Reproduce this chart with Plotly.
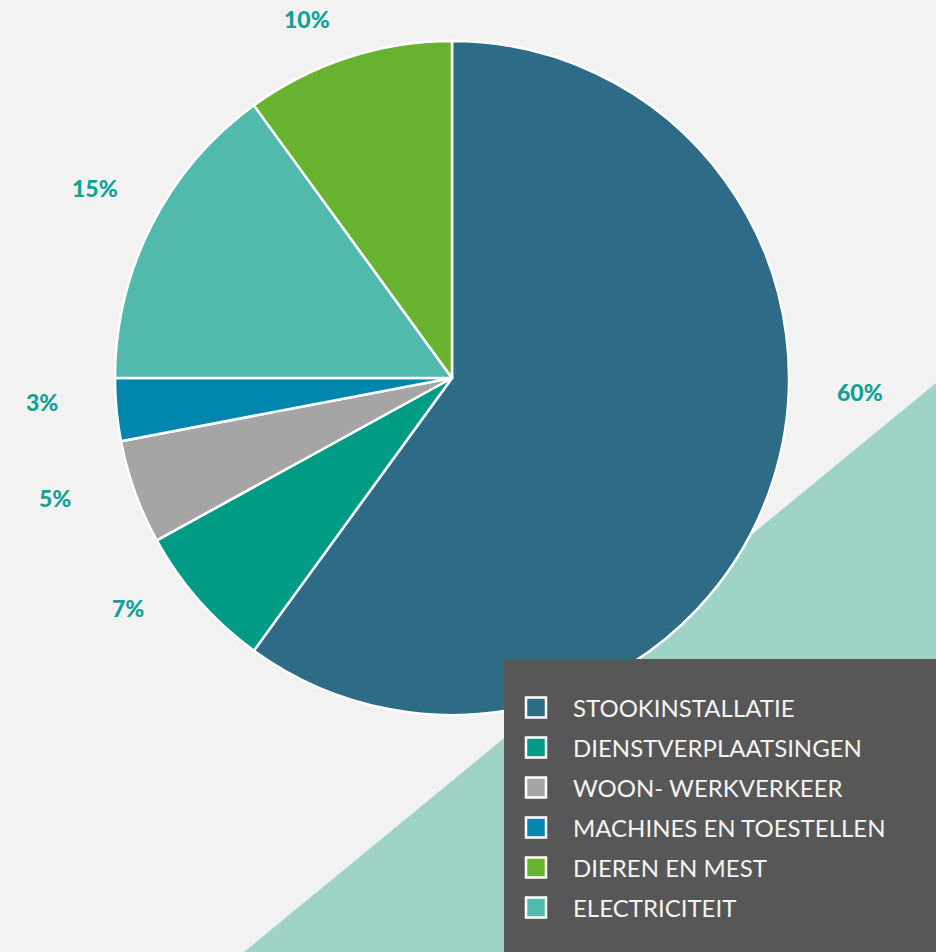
import math
import plotly.graph_objects as go

# ---------------- data ----------------
slice_labels = ["STOOKINSTALLATIE", "DIENSTVERPLAATSINGEN", "WOON- WERKVERKEER",
                "MACHINES EN TOESTELLEN", "ELECTRICITEIT", "DIEREN EN MEST"]
slice_values = [60, 7, 5, 3, 15, 10]
slice_colors = ["#2e6b87", "#009b84", "#a5a5a5", "#0085ad", "#52b9ad", "#67b32f"]

legend_labels = ["STOOKINSTALLATIE", "DIENSTVERPLAATSINGEN", "WOON- WERKVERKEER",
                 "MACHINES EN TOESTELLEN", "DIEREN EN MEST", "ELECTRICITEIT"]

# ---------------- styling / layout ----------------
W, H = 936, 952
CX, CY, R = 452, 378, 337          # pie centre and radius in pixels
LABEL_DIST = [1.21, 1.18, 1.23, 1.22, 1.2, 1.15]   # label distance / radius
LABEL_NUDGE_DEG = [-16, 6, 3, 2, 1, -4]            # small angular shifts of labels
BG = "#f2f2f2"
TRI = "#9fd3c8"
LEG_BG = "#575757"
LABEL_COLOR = "#11a197"


def px(x):
    return x / W


def py(y):
    return 1 - y / H


fig = go.Figure()
fig.add_trace(go.Pie(
    labels=slice_labels,
    values=slice_values,
    sort=False,
    direction="clockwise",
    rotation=0,
    marker=dict(colors=slice_colors, line=dict(color="white", width=2.5)),
    textinfo="none",
    hoverinfo="label+percent",
    showlegend=False,
    domain=dict(x=[px(CX - R), px(CX + R)], y=[py(CY + R), py(CY - R)]),
))

shapes = []
# teal triangle in the background
shapes.append(dict(type="path", xref="paper", yref="paper", layer="below",
                   path=f"M {px(936)} {py(383)} L {px(244)} {py(952)} L {px(936)} {py(952)} Z",
                   fillcolor=TRI, line=dict(width=0)))

annotations = []
total = sum(slice_values)
cum = 0
for i, v in enumerate(slice_values):
    mid = (cum + v / 2) / total * 360 + LABEL_NUDGE_DEG[i]
    cum += v
    th = math.radians(mid)
    lx = CX + LABEL_DIST[i] * R * math.sin(th)
    ly = CY - LABEL_DIST[i] * R * math.cos(th)
    annotations.append(dict(x=px(lx), y=py(ly), xref="paper", yref="paper",
                            text=f"{round(v / total * 100)}%", showarrow=False,
                            font=dict(family="Lato", size=23, color=LABEL_COLOR, weight=900),
                            xanchor="center", yanchor="middle"))

# custom legend box
shapes.append(dict(type="rect", xref="paper", yref="paper",
                   x0=px(504), x1=px(936), y0=py(952), y1=py(659),
                   fillcolor=LEG_BG, line=dict(width=0)))
color_of = dict(zip(slice_labels, slice_colors))
for j, lab in enumerate(legend_labels):
    yc = 707.5 + 40 * j
    shapes.append(dict(type="rect", xref="paper", yref="paper",
                       x0=px(526), x1=px(546), y0=py(yc + 10), y1=py(yc - 10),
                       fillcolor=color_of[lab], line=dict(color="white", width=2.5)))
    annotations.append(dict(x=px(571), y=py(yc), xref="paper", yref="paper",
                            text=lab, showarrow=False, xanchor="left", yanchor="middle",
                            font=dict(family="Lato", size=24, color="#f4f4f4")))

fig.update_layout(
    width=W, height=H,
    margin=dict(l=0, r=0, t=0, b=0),
    paper_bgcolor=BG, plot_bgcolor=BG,
    shapes=shapes, annotations=annotations,
    showlegend=False,
)

fig.write_html("out.html")
